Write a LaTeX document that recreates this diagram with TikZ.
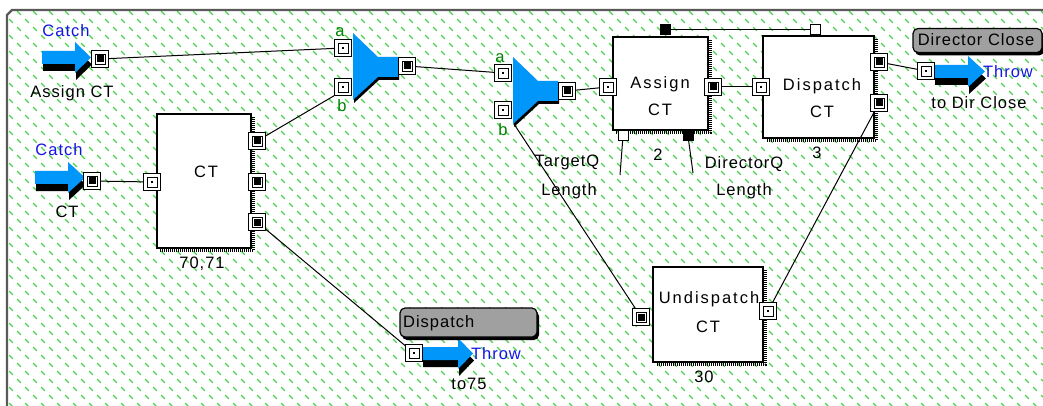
\documentclass[tikz,border=0pt]{standalone}
\usepackage{fontspec}
\setmainfont{Liberation Sans}
\newfontfamily\blockfont[LetterSpace=12]{Liberation Sans}
\newfontfamily\labelfont[LetterSpace=6]{Liberation Sans}
\usetikzlibrary{shadows}

\definecolor{hatchgreen}{RGB}{70,215,70}
\definecolor{flowblue}{RGB}{0,150,250}
\definecolor{catchblue}{RGB}{20,20,230}
\definecolor{pingreen}{RGB}{0,130,0}
\definecolor{tagfill}{RGB}{160,160,160}
\definecolor{framegray}{RGB}{90,90,90}

\tikzset{
  txt/.style={font=\labelfont\fontsize{16.5}{20}\selectfont, inner sep=0pt,
              text height=11.8pt, text depth=0pt},
  blocktxt/.style={txt, font=\blockfont\fontsize{16.5}{20}\selectfont},
  bluetxt/.style={txt, text=catchblue},
  pintxt/.style={txt, text=pingreen},
  block/.style={draw, line width=1.2pt, fill=white, inner sep=0pt},
  blockshadow/.style={line width=3pt, dash pattern=on 1pt off 1pt, black},
  wire/.style={line width=1pt, black},
  port/.style={draw, line width=0.9pt, fill=white, minimum size=17pt,
               inner sep=0pt, outer sep=0pt},
  portout/.style={port, path picture={
      \draw[black, line width=0.9pt]
        ([shift={(-5pt,-5pt)}]path picture bounding box.center) rectangle
        ([shift={(5pt,5pt)}]path picture bounding box.center);
      \fill[black]
        ([shift={(-3.5pt,-3.5pt)}]path picture bounding box.center) rectangle
        ([shift={(3.5pt,3.5pt)}]path picture bounding box.center);}},
  portin/.style={port, path picture={
      \draw[black, line width=0.9pt]
        ([shift={(-5pt,-5pt)}]path picture bounding box.center) rectangle
        ([shift={(5pt,5pt)}]path picture bounding box.center);
      \fill[black]
        ([shift={(-1pt,-1pt)}]path picture bounding box.center) rectangle
        ([shift={(1pt,1pt)}]path picture bounding box.center);}},
  minport/.style={draw, line width=1pt, minimum size=10pt, inner sep=0pt, outer sep=0pt},
  tagbox/.style={draw, line width=1.2pt, fill=tagfill, rounded corners=5pt,
                 inner sep=0pt,
                 drop shadow={shadow xshift=2pt, shadow yshift=-3pt,
                              opacity=1, fill=black}},
}

% block arrow: tail x, body top y, head base x, tip x
\newcommand\flowarrow[4]{%
  \fill[black, shift={(1,7)}] (#1,#2) -- (#3,#2) -- (#3,#2-9) -- (#4,#2+6.5)
     -- (#3,#2+22) -- (#3,#2+13) -- (#1,#2+13) -- cycle;
  \fill[flowblue] (#1,#2) -- (#3,#2) -- (#3,#2-9) -- (#4,#2+6.5)
     -- (#3,#2+22) -- (#3,#2+13) -- (#1,#2+13) -- cycle;}

% merge symbol: left edge x, top y
\newcommand\mergeshape[2]{%
  \fill[black, shift={(1,3)}] (#1,#2) -- (#1+25,#2+24) -- (#1+45,#2+24)
     -- (#1+45,#2+44) -- (#1+25,#2+44) -- (#1,#2+67) -- cycle;
  \fill[flowblue] (#1,#2) -- (#1+25,#2+24) -- (#1+45,#2+24)
     -- (#1+45,#2+44) -- (#1+25,#2+44) -- (#1,#2+67) -- cycle;}

\begin{document}
\begin{tikzpicture}[x=1pt, y=-1pt]
\useasboundingbox (0,0) rectangle (1043,406);
\fill[white] (0,0) rectangle (1043,406);

% hatched canvas
\begin{scope}
  \clip (8,11) rectangle (1043,406);
  \draw[hatchgreen, line width=1.3pt, line cap=round]
    \foreach \j in {0,...,50} { \foreach \i in {0,...,66} {
      ({3+16*\i+8*mod(\j,2)}, {13+8*\j}) ++(-1.7,-1.7) -- ++(3.4,3.4) } };
\end{scope}
\draw[framegray, line width=2.2pt] (7,406) -- (7,15) -- (12,10) -- (1043,10);

% blocks with dithered shadows
\node[block, minimum width=94pt, minimum height=134pt] (ctB) at (204,181) {};
\node[block, minimum width=95pt, minimum height=93pt] (asgB) at (660.5,83.5) {};
\node[block, minimum width=111pt, minimum height=102pt] (dspB) at (818.5,87) {};
\node[block, minimum width=110pt, minimum height=95pt] (undB) at (708,314.5) {};
\foreach \b in {ctB, asgB, dspB, undB} {
  \draw[blockshadow] ([xshift=2.2pt,yshift=-4pt]\b.north east)
     -- ([xshift=2.2pt,yshift=-2.2pt]\b.south east)
     -- ([xshift=4pt,yshift=-2.2pt]\b.south west);
}

\node[blocktxt] (ctT) at (206,172) {CT};
\node[blocktxt] (asgT1) at (660,83) {Assign};
\node[blocktxt] (asgT2) at (660,110) {CT};
\node[blocktxt] (dspT1) at (822,85) {Dispatch};
\node[blocktxt] (dspT2) at (822,112) {CT};
\node[blocktxt] (undT1) at (709,298) {Undispatch};
\node[blocktxt] (undT2) at (708,327) {CT};

\node[txt] (ctN) at (202,263) {70,71};
\node[txt] (asgN) at (658,155) {2};
\node[txt] (dspN) at (817,153) {3};
\node[txt] (undN) at (704,377) {30};

% catch / throw arrows and merges
\flowarrow{42}{51}{75}{91}
\flowarrow{35}{171}{68}{85}
\flowarrow{934}{65}{968}{985}
\flowarrow{422}{347}{458}{473}
\mergeshape{353}{33}
\mergeshape{513}{57}

% ports
\node[portout] (cat1P) at (100,59) {};
\node[portout] (cat2P) at (92,181) {};
\node[portin]  (ctIn) at (152,182) {};
\node[portout] (ctO1) at (257,141) {};
\node[portout] (ctO2) at (257,182) {};
\node[portout] (ctO3) at (257,222) {};
\node[portin]  (m1a) at (343,48) {};
\node[portin]  (m1b) at (343,87) {};
\node[portout] (m1o) at (407,66) {};
\node[portin]  (m2a) at (503,73) {};
\node[portin]  (m2b) at (503,110) {};
\node[portout] (m2o) at (567,91) {};
\coordinate (m2tip) at (514,124);
\node[portin]  (asgIn) at (608,87) {};
\node[portout] (asgOut) at (713,87) {};
\node[portin]  (dspIn) at (761,87) {};
\node[portout] (dspO1) at (879,62) {};
\node[portout] (dspO2) at (879,103) {};
\node[portin]  (dcThP) at (926,71) {};
\node[portin]  (dspThP) at (414,353) {};
\node[portout] (undIn) at (641,317) {};
\node[portin]  (undOut) at (768,311) {};
\node[minport, fill=black] (asgTop) at (665,30) {};
\node[minport, fill=white] (dspTop) at (815,30) {};
\node[minport, fill=white] (asgBL) at (623,136) {};
\node[minport, fill=black] (asgBR) at (688,136) {};
\coordinate (tqEnd) at (620,175);
\coordinate (dqEnd) at (693,173);

% tags
\node[tagbox, minimum width=129pt, minimum height=24pt] (dcTag) at (977.5,40.5) {};
\node[txt] (dcTagT) at (976,40) {Director Close};
\node[tagbox, minimum width=137pt, minimum height=29pt] (dspTag) at (468.5,322.5) {};
\node[txt, anchor=west] (dspTagT) at (403,322) {Dispatch};

% connectors
\draw[wire] (cat1P) -- (m1a);
\draw[wire] (cat2P) -- (ctIn);
\draw[wire] (ctO1) -- (m1b.south west);
\draw[wire] (ctO3) -- (dspThP);
\draw[wire] (m1o) -- (m2a);
\draw[wire] (m2o) -- (asgIn);
\draw[wire] (asgOut) -- (dspIn);
\draw[wire] (asgTop) -- (dspTop);
\draw[wire] (dspO1) -- (dcThP);
\draw[wire] (dspO2) -- (undOut);
\draw[wire] (m2tip) -- (undIn);
\draw[wire] (asgBL) -- (tqEnd);
\draw[wire] (asgBR) -- (dqEnd);

% labels
\node[bluetxt] (cat1L) at (66,31) {Catch};
\node[txt] (cat1N) at (72,92) {Assign CT};
\node[bluetxt] (cat2L) at (59,150) {Catch};
\node[txt] (cat2N) at (67,212) {CT};
\node[pintxt] (m1aL) at (340,31) {a};
\node[pintxt] (m1bL) at (342,106) {b};
\node[pintxt] (m2aL) at (500,57) {a};
\node[pintxt] (m2bL) at (503,130) {b};
\node[txt] (tqL1) at (567,161) {TargetQ};
\node[txt] (tqL2) at (569,190) {Length};
\node[txt] (dqL1) at (744,163) {DirectorQ};
\node[txt] (dqL2) at (744,190) {Length};
\node[bluetxt] (dcThL) at (1008,72) {Throw};
\node[txt] (dcThN) at (979,103) {to Dir Close};
\node[bluetxt] (dspThL) at (496,354) {Throw};
\node[txt] (dspThN) at (469,384) {to75};
\end{tikzpicture}
\end{document}
